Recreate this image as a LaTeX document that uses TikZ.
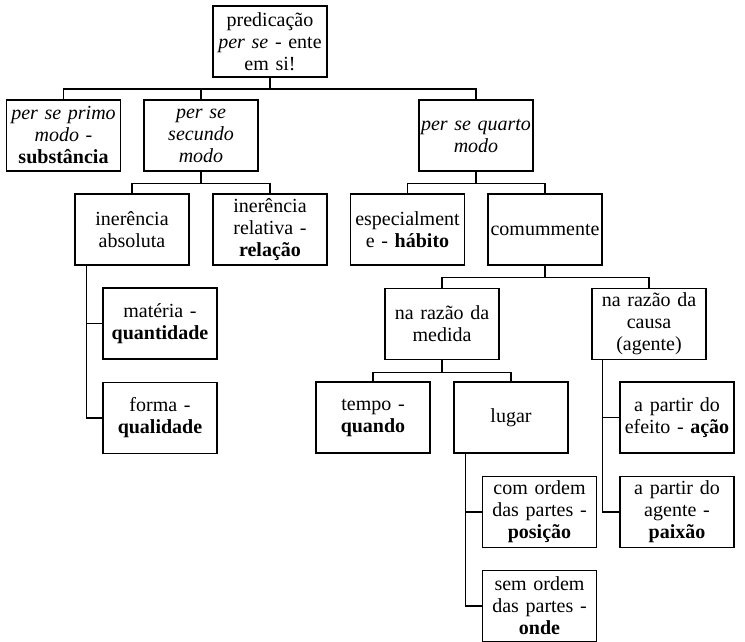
\documentclass[tikz,border=0pt]{standalone}
\usepackage{fontspec}
\setmainfont{Liberation Serif}
\begin{document}
\begin{tikzpicture}[x=1pt,y=-1pt,
  box/.style={draw, line width=1.1pt, minimum width=114pt, minimum height=71pt,
    text width=112pt, inner xsep=1pt, inner ysep=0pt, align=center,
    font=\fontsize{20}{22}\selectfont},
  conn/.style={line width=1.1pt}]
\useasboundingbox (0,0) rectangle (745,642);
\node[box] (root) at (270,41.5) {predicação\\\textit{per se} - ente\\em si!};
\node[box] (primo) at (63.5,135.5) {\textit{per se primo}\\\textit{modo} -\\\textbf{substância}};
\node[box] (secundo) at (201,135.5) {\textit{per se}\\\textit{secundo}\\\textit{modo}};
\node[box] (quarto) at (476,135.5) {\textit{per se quarto}\\\textit{modo}};
\node[box] (absoluta) at (132,229.5) {inerência\\absoluta};
\node[box] (relativa) at (270,229.5) {inerência\\relativa -\\\textbf{relação}};
\node[box] (materia) at (160,323.5) {matéria -\\\textbf{quantidade}};
\node[box] (forma) at (160,418) {forma -\\\textbf{qualidade}};
\node[box] (especial) at (407.5,229.5) {especialment\\e - \textbf{hábito}};
\node[box] (comum) at (545,229.5) {comummente};
\node[box] (medida) at (442,324) {na razão da\\medida};
\node[box] (causa) at (649,324) {na razão da\\causa\\(agente)};
\node[box] (tempo) at (373,417.5) {tempo -\\\textbf{quando}};
\node[box] (lugar) at (511,417.5) {lugar};
\node[box] (comordem) at (539.5,512) {com ordem\\das partes -\\\textbf{posição}};
\node[box] (semordem) at (539.5,606) {sem ordem\\das partes -\\\textbf{onde}};
\node[box] (efeito) at (677,417.5) {a partir do\\efeito - \textbf{ação}};
\node[box] (agente) at (677,512) {a partir do\\agente -\\\textbf{paixão}};
% tree connectors
\foreach \c in {primo,secundo,quarto}
  \draw[conn] (root.south) -- ++(0,11.5) -| (\c.north);
\foreach \c in {absoluta,relativa}
  \draw[conn] (secundo.south) -- ++(0,11.5) -| (\c.north);
\foreach \c in {especial,comum}
  \draw[conn] (quarto.south) -- ++(0,11.5) -| (\c.north);
\foreach \c in {medida,causa}
  \draw[conn] (comum.south) -- ++(0,11.5) -| (\c.north);
\foreach \c in {tempo,lugar}
  \draw[conn] (medida.south) -- ++(0,12) -| (\c.north);
% side connectors
\foreach \c in {materia,forma}
  \draw[conn] ([xshift=12pt]absoluta.south west) |- (\c.west);
\foreach \c in {comordem,semordem}
  \draw[conn] ([xshift=12pt]lugar.south west) |- (\c.west);
\foreach \c in {efeito,agente}
  \draw[conn] ([xshift=11pt]causa.south west) |- (\c.west);
\end{tikzpicture}
\end{document}
